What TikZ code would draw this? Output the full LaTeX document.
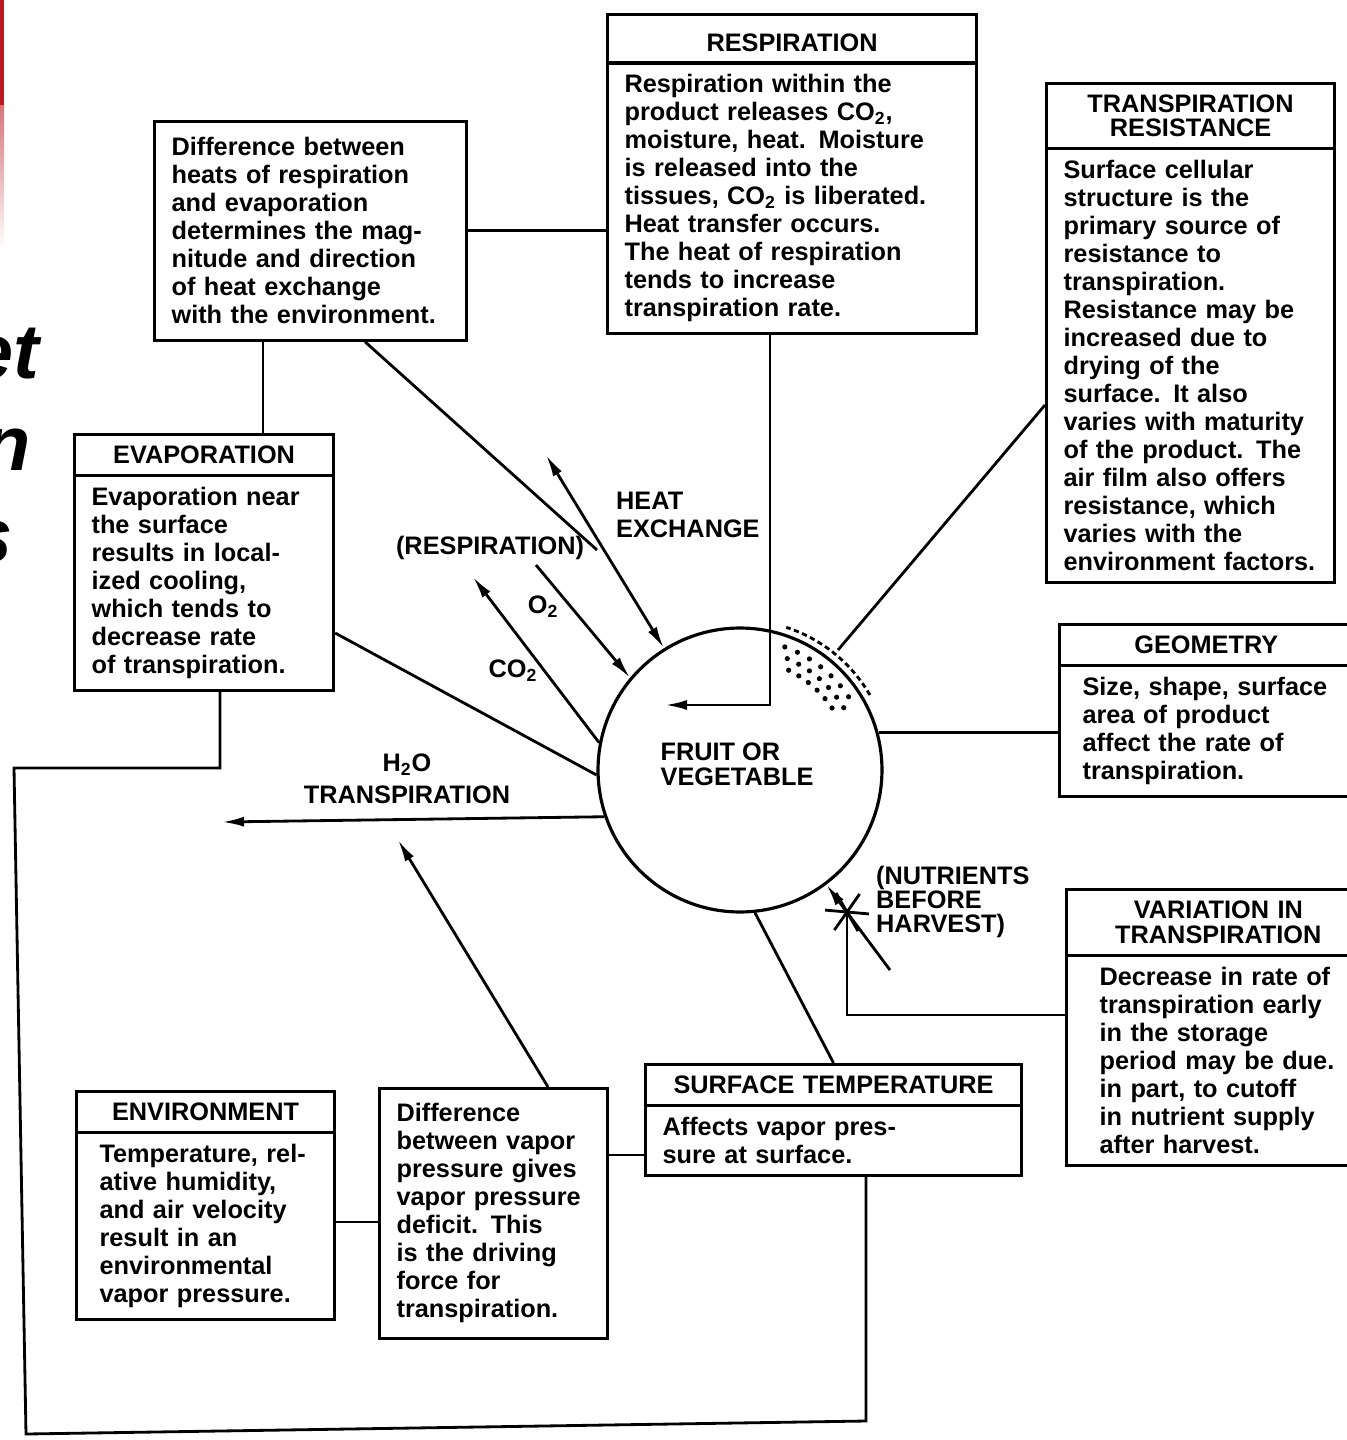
\documentclass[tikz,border=0pt]{standalone}
\usepackage{fontspec}
\setmainfont{Liberation Sans}
\usepackage{xcolor}
\usepackage{tikz}
\usetikzlibrary{arrows.meta,shapes.multipart}
\definecolor{slide-red}{RGB}{185,25,35}
\newcommand{\boxfont}{\fontsize{14.4}{15.94}\selectfont}
\newcommand{\ctitle}[1]{\makebox[\linewidth]{#1}}
\tikzset{>={Latex[width=0.2cm,length=0.44cm]}}
\tikzset{
  every node/.style={font=\bfseries\boxfont},
  infobox/.style={draw, line width=1.8pt, rectangle split, rectangle split parts=2,
    anchor=north west, align=left, inner xsep=0.34cm, inner ysep=0.2cm},
  plainbox/.style={draw, line width=1.8pt, anchor=north west, align=left,
    inner xsep=0.34cm, inner ysep=0.3cm},
  link/.style={line width=1.6pt},
  bigword/.style={anchor=base east, inner sep=0pt, font=\bfseries\itshape\fontsize{44}{50}\selectfont},
}

\begin{document}
\begin{tikzpicture}[x=0.02cm,y=-0.02cm]
    \useasboundingbox (0,0) rectangle (1346,1440);

    % what is left of the slide behind the figure
    \fill[slide-red] (0,0) rectangle (4,105);
    \shade[top color=slide-red!60, bottom color=white] (0,105) rectangle (4,250);
    \node[bigword] (w1) at (40,378) {et};
    \node[bigword] (w2) at (31,470) {n};
    \node[bigword] (w3) at (13,562) {s};

    % the product
    \node[draw, circle, line width=1.8pt, minimum size=5.68cm, inner sep=0pt] (fruit) at (740,770) {};
    \node[align=left, font=\bfseries\fontsize{14.4}{14.2}\selectfont] (fruitlbl) at (737,764) {FRUIT OR\\VEGETABLE};

    % boxes
    \node[plainbox, text width=5.56cm, inner ysep=0.32cm] (heatdiff) at (153,120) {Difference between\\heats of respiration\\and evaporation\\determines the mag-\\nitude and direction\\of heat exchange\\with the environment.};
    \node[infobox, text width=6.7cm] (resp) at (606,13) {\ctitle{\rule{0pt}{0.5cm}RESPIRATION}
        \nodepart{two} Respiration within the\\product releases CO\textsubscript{2},\\moisture, heat. Moisture\\is released into the\\tissues, CO\textsubscript{2} is liberated.\\Heat transfer occurs.\\The heat of respiration\\tends to increase\\transpiration rate.};
    \node[infobox, text width=5.08cm] (transres) at (1045,82) {\ctitle{TRANSPIRATION}\\[-0.08cm]\ctitle{RESISTANCE}
        \nodepart{two} Surface cellular\\structure is the\\primary source of\\resistance to\\transpiration.\\Resistance may be\\increased due to\\drying of the\\surface. It also\\varies with maturity\\of the product. The\\air film also offers\\resistance, which\\varies with the\\environment factors.};
    \node[infobox, text width=4.95cm, inner xsep=0.46cm] (geom) at (1058,623) {\ctitle{GEOMETRY}
        \nodepart{two} Size, shape, surface\\area of product\\affect the rate of\\transpiration.};
    \node[infobox, text width=4.75cm, inner xsep=0.66cm] (varia) at (1065,888) {\ctitle{VARIATION IN}\\[-0.06cm]\ctitle{TRANSPIRATION}
        \nodepart{two} Decrease in rate of\\transpiration early\\in the storage\\period may be due.\\in part, to cutoff\\in nutrient supply\\after harvest.};
    \node[infobox, text width=4.5cm] (evap) at (73,433) {\ctitle{EVAPORATION}
        \nodepart{two} Evaporation near\\the surface\\results in local-\\ized cooling,\\which tends to\\decrease rate\\of transpiration.};
    \node[infobox, text width=4.24cm, inner xsep=0.46cm] (env) at (75,1090) {\ctitle{ENVIRONMENT}
        \nodepart{two} Temperature, rel-\\ative humidity,\\and air velocity\\result in an\\environmental\\vapor pressure.};
    \node[plainbox, text width=3.88cm] (vpdiff) at (378,1087) {Difference\\between vapor\\pressure gives\\vapor pressure\\deficit. This\\is the driving\\force for\\transpiration.};
    \node[infobox, text width=6.84cm] (surft) at (644,1063) {\ctitle{SURFACE TEMPERATURE}
        \nodepart{two} Affects vapor pres-\\sure at surface.};

    % labels
    \node (resplbl) at (490,548) {(RESPIRATION)};
    \node[anchor=north west, align=left] (heatlbl) at (610,486) {HEAT\\EXCHANGE};
    \node (o2lbl) at (543,607) {O\textsubscript{2}};
    \node (co2lbl) at (513,671) {CO\textsubscript{2}};
    \node[align=center, font=\bfseries\fontsize{14.4}{18}\selectfont] (h2olbl) at (407,779) {H\textsubscript{2}O\\TRANSPIRATION};
    \node[anchor=north west, align=left, font=\bfseries\fontsize{14.4}{13.6}\selectfont] (nutlbl) at (870,860) {(NUTRIENTS\\BEFORE\\HARVEST)};

    % free ends and bends
    \coordinate (hx) at (263,0);
    \coordinate (ax) at (365,0);
    \coordinate (heatend) at (597,550);
    \coordinate (heatup) at (546,455);
    \coordinate (o2start) at (536,565);
    \coordinate (co2tip) at (473,577);
    \coordinate (evy) at (0,633);
    \coordinate (h2otip) at (222,822);
    \coordinate (vpx) at (548,0);
    \coordinate (vptip) at (398,840);
    \coordinate (envy) at (0,1222);
    \coordinate (sty) at (0,1155);
    \coordinate (rdrop) at (770,705);
    \coordinate (resptip) at (665,705);
    \coordinate (try) at (0,405);
    \coordinate (stip) at (838,650);
    \coordinate (vy) at (0,1015);
    \coordinate (star) at (847,912);
    \coordinate (nutstart) at (890,970);
    \coordinate (lp1) at (220,768);
    \coordinate (lp2) at (14,768);
    \coordinate (lp3) at (26,1434);
    \coordinate (lp4) at (866,1421);

    % connectors
    \draw[link] (heatdiff.south -| hx) -- (evap.north -| hx);
    \draw[link] (heatdiff.east) -- (heatdiff.east -| resp.west);
    \draw[link] (heatdiff.south -| ax) -- (heatend);
    \draw[link, <->] (heatup) -- (fruit.122);
    \draw[link, ->] (o2start) -- (fruit.140);
    \draw[link, ->] (fruit.169) -- (co2tip);
    \draw[link] (evap.east |- evy) -- (fruit.182);
    \draw[link, ->] (fruit.199) -- (h2otip);
    \draw[link, ->] (vpdiff.north -| vpx) -- (vptip);
    \draw[link] (env.east |- envy) -- (vpdiff.west |- envy);
    \draw[link] (vpdiff.east |- sty) -- (surft.west |- sty);
    \draw[link] (surft.north) -- (fruit.-84);
    \draw[link, ->] (resp.south -| rdrop) |- (resptip);
    \draw[link] (transres.west |- try) -- (stip);
    \draw[link] (geom.west |- fruit.15) -- (fruit.15);
    \draw[link] (varia.west |- vy) -| (star);
    \draw[link, ->] (nutstart) -- (fruit.-53);
    \draw[link] (evap.south -| lp1) -- (lp1) -- (lp2) -- (lp3) -- (lp4) -- (surft.south -| lp4);

    % nutrient supply cut off
    \foreach \a in {5,60,125}
        \draw[link, shift={(star)}] ({22*cos(\a)},{22*sin(\a)}) -- ({-22*cos(\a)},{-22*sin(\a)});

    % stippled surface layer
    \draw[line width=1.6pt, dash pattern=on 3pt off 2pt, shift={(fruit.center)}]
        plot[domain=30:72, samples=20] ({150*cos(\x)},{-150*sin(\x)});
    \foreach \a in {34,40,...,70}
        \fill[shift={(fruit.center)}] ({131*cos(\a)},{-131*sin(\a)}) circle (2.6);
    \foreach \a in {31,37,...,67}
        \fill[shift={(fruit.center)}] ({121*cos(\a)},{-121*sin(\a)}) circle (2.6);
    \foreach \a in {34,40,...,64}
        \fill[shift={(fruit.center)}] ({111*cos(\a)},{-111*sin(\a)}) circle (2.6);
\end{tikzpicture}
\end{document}
